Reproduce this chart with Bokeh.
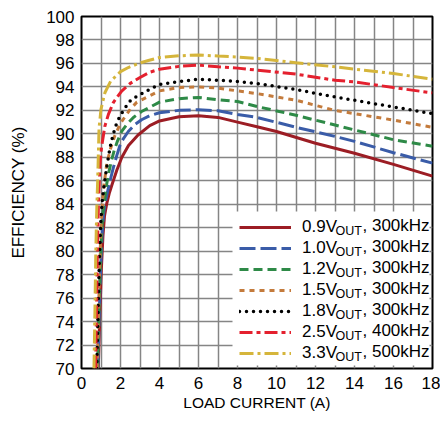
from bokeh.plotting import figure
from bokeh.models import FixedTicker, Legend, LegendItem, Label, Range1d, BoxAnnotation
from bokeh.embed import file_html
from bokeh.resources import INLINE

# ---- data (load current A, efficiency %) ----
v09_x = [0.86, 0.94, 1.02, 1.1, 1.18, 1.3, 1.42, 1.55, 1.81, 2.07, 2.41, 2.9, 3.5, 4, 5, 6, 7, 8, 9, 10, 12, 14, 16, 18]
v09_y = [70, 74.5, 78.5, 81.3, 83.0, 84.1, 84.9, 85.6, 86.9, 88.0, 89.0, 89.9, 90.7, 91.1, 91.45, 91.55, 91.4, 91.0, 90.6, 90.2, 89.2, 88.35, 87.4, 86.4]

v10_x = [0.84, 0.91, 0.98, 1.06, 1.14, 1.25, 1.38, 1.51, 1.63, 1.8, 1.97, 2.15, 2.4, 2.74, 3.08, 3.5, 4, 5, 6, 7, 8, 9, 11, 13, 14, 16, 18]
v10_y = [70, 74.5, 78.5, 81.5, 83.3, 84.4, 85.4, 86.3, 87.1, 88.1, 89.0, 89.6, 90.2, 90.8, 91.2, 91.55, 91.8, 92.0, 92.05, 91.97, 91.65, 91.4, 90.56, 89.78, 89.36, 88.39, 87.5]

v12_x = [0.82, 0.89, 0.96, 1.03, 1.1, 1.2, 1.3, 1.41, 1.55, 1.68, 1.85, 2.06, 2.32, 2.66, 3.08, 3.43, 4, 5, 6, 7, 8, 9, 11, 13, 14, 16, 18]
v12_y = [70, 74.5, 78.5, 81.5, 83.3, 84.6, 85.8, 86.8, 87.8, 88.6, 89.4, 90.2, 90.8, 91.4, 91.9, 92.2, 92.7, 93.0, 93.1, 92.9, 92.75, 92.33, 91.58, 90.75, 90.33, 89.5, 88.94]

v15_x = [0.8, 0.87, 0.94, 1.0, 1.07, 1.15, 1.3, 1.5, 1.7, 2.0, 2.5, 2.84, 3.5, 4, 5, 6, 7, 8, 9, 11, 13, 14, 16, 18]
v15_y = [70, 74.5, 79, 82, 84.0, 85.6, 87.5, 88.8, 89.8, 90.9, 92.1, 92.7, 93.25, 93.66, 93.95, 94.0, 93.9, 93.66, 93.43, 92.86, 92.0, 91.72, 91.17, 90.55]

v18_x = [0.78, 0.85, 0.92, 0.99, 1.06, 1.12, 1.2, 1.29, 1.38, 1.46, 1.58, 1.72, 1.85, 2.03, 2.23, 2.49, 2.83, 3.17, 3.5, 4, 5, 6, 7, 8, 9, 11, 13, 14, 16, 18]
v18_y = [70, 75, 79.5, 82.5, 84.2, 85.1, 86.1, 87.1, 88.0, 88.8, 89.66, 90.5, 91.1, 91.66, 92.2, 92.8, 93.2, 93.5, 93.8, 94.2, 94.46, 94.65, 94.57, 94.45, 94.29, 93.77, 93.14, 92.86, 92.29, 91.72]

v25_x = [0.72, 0.77, 0.81, 0.84, 0.87, 0.91, 0.96, 1.03, 1.2, 1.38, 1.63, 2.06, 2.5, 3.0, 3.5, 4, 5, 6, 7, 8, 9, 11, 13, 14, 16, 18]
v25_y = [70, 75, 79.5, 82, 84.0, 85.8, 87.6, 88.9, 90.66, 91.66, 92.66, 93.65, 94.3, 94.8, 95.25, 95.5, 95.75, 95.85, 95.72, 95.6, 95.43, 95.09, 94.57, 94.43, 93.94, 93.49]

v33_x = [0.64, 0.69, 0.73, 0.76, 0.79, 0.83, 0.86, 0.9, 1.0, 1.2, 1.5, 2.0, 2.4, 3.0, 3.43, 4, 5, 6, 7, 8, 9, 11, 13, 14, 16, 18]
v33_y = [70, 75, 79.5, 82, 84.0, 86.0, 88.0, 90.5, 92.1, 93.5, 94.5, 95.3, 95.65, 96.05, 96.25, 96.5, 96.65, 96.72, 96.63, 96.55, 96.43, 96.06, 95.71, 95.51, 95.14, 94.66]

vout_labels = ["0.9V", "1.0V", "1.2V", "1.5V", "1.8V", "2.5V", "3.3V"]
freq_labels = ["300kHz", "300kHz", "300kHz", "300kHz", "300kHz", "400kHz", "500kHz"]
x_ticks = list(range(0, 19, 2))
y_ticks = list(range(70, 101, 2))

series_x = [v09_x, v10_x, v12_x, v15_x, v18_x, v25_x, v33_x]
series_y = [v09_y, v10_y, v12_y, v15_y, v18_y, v25_y, v33_y]

colors = ["#9c1d24", "#3a5ca8", "#2e8a47", "#c47b3c", "#000000", "#e4202e", "#d5b53b"]
dashes = ["solid", "16 5", "9 5", "5 5", "0 7", "13 4 4 4", "14 4 3 4"]
widths = [3, 3, 3, 3, 3.5, 3, 3]
caps = ["butt", "butt", "butt", "butt", "round", "butt", "butt"]

FONT = "Liberation Sans"

p = figure(frame_width=351, frame_height=352, output_backend="svg", toolbar_location=None,
           x_range=Range1d(0, 18), y_range=Range1d(70, 100),
           min_border_left=81, min_border_right=8, min_border_top=16, min_border_bottom=53)
p.background_fill_color = "white"
p.border_fill_color = "white"
p.outline_line_color = "black"
p.outline_line_width = 2

p.xgrid.ticker = FixedTicker(ticks=list(range(0, 19)))
p.ygrid.ticker = FixedTicker(ticks=y_ticks)
for g in (p.xgrid, p.ygrid):
    g.grid_line_color = "#858585"
    g.grid_line_width = 1.5

p.xaxis.ticker = FixedTicker(ticks=x_ticks)
p.yaxis.ticker = FixedTicker(ticks=y_ticks)
for ax in (p.xaxis, p.yaxis):
    ax.axis_line_color = None
    ax.major_tick_line_color = None
    ax.minor_tick_line_color = None
    ax.major_tick_out = 0
    ax.major_tick_in = 0
    ax.major_label_text_font = FONT
    ax.major_label_text_font_size = "17px"
    ax.major_label_text_color = "black"
    ax.axis_label_text_font = FONT
    ax.axis_label_text_font_style = "normal"
    ax.axis_label_text_color = "black"
p.xaxis.axis_label_text_font_size = "15.5px"
p.yaxis.axis_label_text_font_size = "17px"
p.xaxis.axis_label = "LOAD CURRENT (A)"
p.yaxis.axis_label = "EFFICIENCY (%)"
p.xaxis.major_label_standoff = 8
p.xaxis.axis_label_standoff = 2
p.yaxis.major_label_standoff = 7
p.yaxis.axis_label_standoff = 15

# white legend panel, drawn over the grid but beneath the curves
p.add_layout(BoxAnnotation(left=151, right=348, bottom=3, top=157,
                           left_units="screen", right_units="screen",
                           bottom_units="screen", top_units="screen",
                           fill_color="white", fill_alpha=1.0, line_color=None,
                           level="underlay"))

renderers = []
for xs, ys, c, d, w, cap in zip(series_x, series_y, colors, dashes, widths, caps):
    r = p.line(xs, ys, line_color=c, line_width=w, line_dash=d, line_cap=cap)
    renderers.append(r)

items = [LegendItem(label=lab, renderers=[r]) for lab, r in zip(vout_labels, renderers)]
legend = Legend(items=items, location=(158, 5), orientation="vertical",
                background_fill_alpha=0.0,
                border_line_color=None, padding=5, margin=0, spacing=1,
                glyph_width=52, glyph_height=20, label_height=20, label_width=124,
                label_standoff=11, label_text_font=FONT, label_text_font_size="17px",
                label_text_color="black")
p.add_layout(legend)

row0 = 143  # screen y (from frame bottom) of first legend row text
for i, fr in enumerate(freq_labels):
    yc = row0 - 21 * i
    p.add_layout(Label(x=254, y=yc - 5.5, x_units="screen", y_units="screen", text="OUT",
                       text_font=FONT, text_font_size="12.5px", text_baseline="middle",
                       text_color="black"))
    p.add_layout(Label(x=281, y=yc, x_units="screen", y_units="screen", text=", " + fr,
                       text_font=FONT, text_font_size="17px", text_baseline="middle",
                       text_color="black"))

open("out.html", "w").write(file_html(p, INLINE))
